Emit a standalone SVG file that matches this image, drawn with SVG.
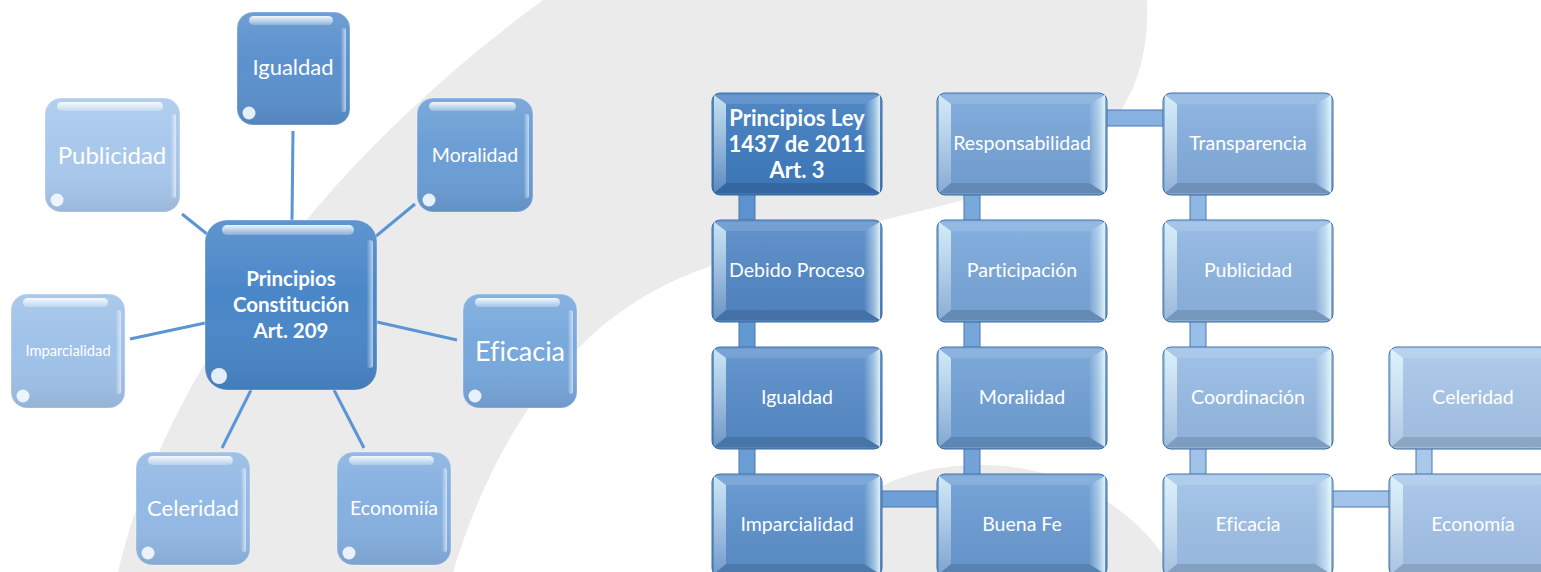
<svg xmlns="http://www.w3.org/2000/svg" xmlns:xlink="http://www.w3.org/1999/xlink" width="1541" height="572" viewBox="0 0 1541 572">
<style>
  text { font-family: Lato, "Liberation Sans", sans-serif; fill: #ffffff; text-anchor: middle; font-variant-ligatures: none; }
  .b { font-weight: bold; }
  .lb { stroke: #ffffff; stroke-opacity: 0.35; stroke-width: 1; }
  .rb { stroke: #3f6c9f; stroke-width: 1; }
  .ln { stroke: #5b95d5; stroke-width: 3; fill: none; stroke-linecap: butt; }
  .bar { stroke: #4a78ad; stroke-width: 1; }
</style>
<defs>
  <linearGradient id="lshade" x1="0" y1="0" x2="0" y2="1">
    <stop offset="0" stop-color="#ffffff" stop-opacity="0.12"/>
    <stop offset="0.45" stop-color="#ffffff" stop-opacity="0"/>
    <stop offset="1" stop-color="#000000" stop-opacity="0.08"/>
  </linearGradient>
  <linearGradient id="lhi" x1="0" y1="0" x2="0" y2="1">
    <stop offset="0" stop-color="#ffffff" stop-opacity="0.9"/>
    <stop offset="1" stop-color="#ffffff" stop-opacity="0.25"/>
  </linearGradient>
  <linearGradient id="lrh" x1="0" y1="0" x2="1" y2="0">
    <stop offset="0" stop-color="#ffffff" stop-opacity="0.05"/>
    <stop offset="1" stop-color="#ffffff" stop-opacity="0.6"/>
  </linearGradient>
  <linearGradient id="gL" x1="0" y1="0" x2="0" y2="1">
    <stop offset="0" stop-color="#eaffff" stop-opacity="0.75"/>
    <stop offset="1" stop-color="#ffffff" stop-opacity="0.15"/>
  </linearGradient>
  <linearGradient id="gR" x1="0" y1="0" x2="1" y2="0">
    <stop offset="0" stop-color="#ffffff" stop-opacity="0"/>
    <stop offset="0.6" stop-color="#e8fbff" stop-opacity="0.45"/>
    <stop offset="1" stop-color="#f2ffff" stop-opacity="0.85"/>
  </linearGradient>
  <linearGradient id="gF" x1="0" y1="0" x2="0" y2="1">
    <stop offset="0" stop-color="#ffffff" stop-opacity="0.1"/>
    <stop offset="1" stop-color="#000000" stop-opacity="0.06"/>
  </linearGradient>
  <g id="bev">
    <rect x="0" y="0" width="170" height="102" rx="8" fill="url(#gF)"/>
    <polygon points="2,2 168,2 152,11 14,11" fill="#ffffff" fill-opacity="0.12"/>
    <polygon points="2,2 14,11 14,90 2,100" fill="url(#gL)"/>
    <polygon points="168,2 152,11 152,90 168,100" fill="url(#gR)"/>
    <polygon points="2,100 14,90 152,90 168,100" fill="#000000" fill-opacity="0.12"/>
  </g>
</defs>

<rect x="0" y="0" width="1541" height="572" fill="#ffffff"/>
<g id="background">
  <path d="M118,572 C150,430 270,200 543,0 L1147,0 C1150,80 1120,140 1040,175 C940,215 780,235 680,278 C560,330 490,450 453,572 Z" fill="#ebebeb"/>
  <path d="M800,572 C830,500 900,465 980,465 C1060,465 1130,500 1175,572 Z" fill="#ebebeb"/>
</g>

<g id="connectors">
  <line class="ln" x1="293" y1="131" x2="292" y2="221"/>
  <line class="ln" x1="182" y1="214" x2="207" y2="234"/>
  <line class="ln" x1="415" y1="204" x2="375" y2="237"/>
  <line class="ln" x1="130" y1="339" x2="205" y2="323"/>
  <line class="ln" x1="377" y1="322" x2="457" y2="340"/>
  <line class="ln" x1="251" y1="390" x2="222" y2="448"/>
  <line class="ln" x1="334" y1="390" x2="364" y2="448"/>

  <rect class="bar" x="739" y="193" width="16" height="29" fill="#5d92cf"/>
  <rect class="bar" x="739" y="320" width="16" height="29" fill="#6399d3"/>
  <rect class="bar" x="739" y="447" width="16" height="29" fill="#6a9dd5"/>
  <rect class="bar" x="964" y="193" width="16" height="29" fill="#79a8db"/>
  <rect class="bar" x="964" y="320" width="16" height="29" fill="#77a6da"/>
  <rect class="bar" x="964" y="447" width="16" height="29" fill="#72a2d8"/>
  <rect class="bar" x="1190" y="193" width="16" height="29" fill="#8fb7e3"/>
  <rect class="bar" x="1190" y="320" width="16" height="29" fill="#99bee7"/>
  <rect class="bar" x="1190" y="447" width="16" height="29" fill="#a0c2e9"/>
  <rect class="bar" x="1416" y="447" width="16" height="29" fill="#a9c8ec"/>
  <rect class="bar" x="1105" y="110" width="60" height="16" fill="#86b1e0"/>
  <rect class="bar" x="880" y="491" width="59" height="16" fill="#6f9fd7"/>
  <rect class="bar" x="1331" y="491" width="60" height="16" fill="#a3c4ea"/>
</g>

<g id="n-center">
  <rect class="lb" x="205" y="220" width="172" height="170" rx="22" fill="#4a87c8"/>
  <rect x="205" y="220" width="172" height="170" rx="22" fill="url(#lshade)"/>
  <rect x="222" y="225" width="132" height="10" rx="5" fill="url(#lhi)"/>
  <rect x="367" y="240" width="6" height="128" rx="3" fill="url(#lrh)"/>
  <circle cx="219" cy="376" r="8" fill="#f4faff" fill-opacity="0.9"/>
  <text class="b" x="291" y="286" font-size="20.5">Principios</text>
  <text class="b" x="291" y="312" font-size="20.5">Constitución</text>
  <text class="b" x="291" y="338" font-size="20.5">Art. 209</text>
</g>
<g id="n-igualdad-l">
  <rect class="lb" x="237" y="12" width="113" height="113" rx="16" fill="#5b91cd"/>
  <rect x="237" y="12" width="113" height="113" rx="16" fill="url(#lshade)"/>
  <rect x="249" y="16" width="84" height="9" rx="4.5" fill="url(#lhi)"/>
  <rect x="341" y="28" width="5" height="84" rx="2.5" fill="url(#lrh)"/>
  <circle cx="249" cy="113" r="6.5" fill="#f4faff" fill-opacity="0.9"/>
  <text x="293" y="75" font-size="22">Igualdad</text>
</g>
<g id="n-publicidad-l">
  <rect class="lb" x="45" y="98" width="135" height="114" rx="16" fill="#a8c8ec"/>
  <rect x="45" y="98" width="135" height="114" rx="16" fill="url(#lshade)"/>
  <rect x="57" y="102" width="106" height="9" rx="4.5" fill="url(#lhi)"/>
  <rect x="171" y="114" width="5" height="84" rx="2.5" fill="url(#lrh)"/>
  <circle cx="57" cy="200" r="6.5" fill="#f4faff" fill-opacity="0.9"/>
  <text x="112" y="164" font-size="24">Publicidad</text>
</g>
<g id="n-moralidad-l">
  <rect class="lb" x="417" y="98" width="116" height="114" rx="16" fill="#6b9ed5"/>
  <rect x="417" y="98" width="116" height="114" rx="16" fill="url(#lshade)"/>
  <rect x="429" y="102" width="87" height="9" rx="4.5" fill="url(#lhi)"/>
  <rect x="524" y="114" width="5" height="84" rx="2.5" fill="url(#lrh)"/>
  <circle cx="429" cy="200" r="6.5" fill="#f4faff" fill-opacity="0.9"/>
  <text x="475" y="162" font-size="19.5">Moralidad</text>
</g>
<g id="n-imparcialidad-l">
  <rect class="lb" x="11" y="294" width="114" height="114" rx="16" fill="#a0c2e9"/>
  <rect x="11" y="294" width="114" height="114" rx="16" fill="url(#lshade)"/>
  <rect x="23" y="298" width="85" height="9" rx="4.5" fill="url(#lhi)"/>
  <rect x="116" y="310" width="5" height="84" rx="2.5" fill="url(#lrh)"/>
  <circle cx="23" cy="396" r="6.5" fill="#f4faff" fill-opacity="0.9"/>
  <text x="68" y="356" font-size="14.7">Imparcialidad</text>
</g>
<g id="n-eficacia-l">
  <rect class="lb" x="463" y="294" width="114" height="114" rx="16" fill="#78a8dc"/>
  <rect x="463" y="294" width="114" height="114" rx="16" fill="url(#lshade)"/>
  <rect x="475" y="298" width="85" height="9" rx="4.5" fill="url(#lhi)"/>
  <rect x="568" y="310" width="5" height="84" rx="2.5" fill="url(#lrh)"/>
  <circle cx="475" cy="396" r="6.5" fill="#f4faff" fill-opacity="0.9"/>
  <text x="520" y="361" font-size="27">Eficacia</text>
</g>
<g id="n-celeridad-l">
  <rect class="lb" x="136" y="452" width="114" height="113" rx="16" fill="#93b9e5"/>
  <rect x="136" y="452" width="114" height="113" rx="16" fill="url(#lshade)"/>
  <rect x="148" y="456" width="85" height="9" rx="4.5" fill="url(#lhi)"/>
  <rect x="241" y="468" width="5" height="84" rx="2.5" fill="url(#lrh)"/>
  <circle cx="148" cy="553" r="6.5" fill="#f4faff" fill-opacity="0.9"/>
  <text x="193" y="516" font-size="22">Celeridad</text>
</g>
<g id="n-economia-l">
  <rect class="lb" x="337" y="452" width="114" height="113" rx="16" fill="#86b0e0"/>
  <rect x="337" y="452" width="114" height="113" rx="16" fill="url(#lshade)"/>
  <rect x="349" y="456" width="85" height="9" rx="4.5" fill="url(#lhi)"/>
  <rect x="442" y="468" width="5" height="84" rx="2.5" fill="url(#lrh)"/>
  <circle cx="349" cy="553" r="6.5" fill="#f4faff" fill-opacity="0.9"/>
  <text x="394" y="515" font-size="19.5">Economiía</text>
</g>

<g id="n-principios-ley">
  <rect class="rb" x="712" y="93" width="170" height="102" rx="8" fill="#3f7dc1"/>
  <use xlink:href="#bev" x="712" y="93"/>
  <text class="b" x="797" y="126" font-size="22">Principios Ley</text>
  <text class="b" x="797" y="152" font-size="22">1437 de 2011</text>
  <text class="b" x="797" y="178" font-size="22">Art. 3</text>
</g>
<g id="n-debido">
  <rect class="rb" x="712" y="220" width="170" height="102" rx="8" fill="#5389c8"/>
  <use xlink:href="#bev" x="712" y="220"/>
  <text x="797" y="277" font-size="19.5">Debido Proceso</text>
</g>
<g id="n-igualdad-r">
  <rect class="rb" x="712" y="347" width="170" height="102" rx="8" fill="#578dcb"/>
  <use xlink:href="#bev" x="712" y="347"/>
  <text x="797" y="404" font-size="19.5">Igualdad</text>
</g>
<g id="n-imparcialidad-r">
  <rect class="rb" x="712" y="474" width="170" height="102" rx="8" fill="#5d93cf"/>
  <use xlink:href="#bev" x="712" y="474"/>
  <text x="797" y="531" font-size="19.5">Imparcialidad</text>
</g>
<g id="n-responsabilidad">
  <rect class="rb" x="937" y="93" width="170" height="102" rx="8" fill="#77a6da"/>
  <use xlink:href="#bev" x="937" y="93"/>
  <text x="1022" y="150" font-size="19.5">Responsabilidad</text>
</g>
<g id="n-participacion">
  <rect class="rb" x="937" y="220" width="170" height="102" rx="8" fill="#7aa9dc"/>
  <use xlink:href="#bev" x="937" y="220"/>
  <text x="1022" y="277" font-size="19.5">Participación</text>
</g>
<g id="n-moralidad-r">
  <rect class="rb" x="937" y="347" width="170" height="102" rx="8" fill="#71a2d8"/>
  <use xlink:href="#bev" x="937" y="347"/>
  <text x="1022" y="404" font-size="19.5">Moralidad</text>
</g>
<g id="n-buenafe">
  <rect class="rb" x="937" y="474" width="170" height="102" rx="8" fill="#6b9dd5"/>
  <use xlink:href="#bev" x="937" y="474"/>
  <text x="1022" y="531" font-size="19.5">Buena Fe</text>
</g>
<g id="n-transparencia">
  <rect class="rb" x="1163" y="93" width="170" height="102" rx="8" fill="#86b0e0"/>
  <use xlink:href="#bev" x="1163" y="93"/>
  <text x="1248" y="150" font-size="19.5">Transparencia</text>
</g>
<g id="n-publicidad-r">
  <rect class="rb" x="1163" y="220" width="170" height="102" rx="8" fill="#8fb7e4"/>
  <use xlink:href="#bev" x="1163" y="220"/>
  <text x="1248" y="277" font-size="19.5">Publicidad</text>
</g>
<g id="n-coordinacion">
  <rect class="rb" x="1163" y="347" width="170" height="102" rx="8" fill="#98bde7"/>
  <use xlink:href="#bev" x="1163" y="347"/>
  <text x="1248" y="404" font-size="19.5">Coordinación</text>
</g>
<g id="n-eficacia-r">
  <rect class="rb" x="1163" y="474" width="170" height="102" rx="8" fill="#9fc2e9"/>
  <use xlink:href="#bev" x="1163" y="474"/>
  <text x="1248" y="531" font-size="19.5">Eficacia</text>
</g>
<g id="n-celeridad-r">
  <rect class="rb" x="1389" y="347" width="170" height="102" rx="8" fill="#a9c8ec"/>
  <use xlink:href="#bev" x="1389" y="347"/>
  <text x="1473" y="404" font-size="19.5">Celeridad</text>
</g>
<g id="n-economia-r">
  <rect class="rb" x="1389" y="474" width="170" height="102" rx="8" fill="#a5c5eb"/>
  <use xlink:href="#bev" x="1389" y="474"/>
  <text x="1473" y="531" font-size="19.5">Economía</text>
</g>
</svg>
